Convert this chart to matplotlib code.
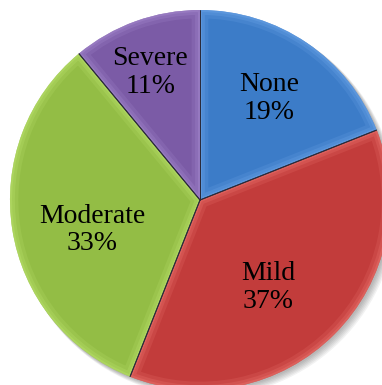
import matplotlib
matplotlib.use("Agg")
import matplotlib.pyplot as plt
import numpy as np
from matplotlib.patches import Wedge

# severity shares (percent)
categories = ["None", "Mild", "Moderate", "Severe"]
shares = [19, 37, 33, 11]

face_colors = ["#3c7cc8", "#c23c3b", "#93bd45", "#7b5ba6"]
rim_colors = ["#6aa2e6", "#e8706a", "#b8df6a", "#a487cc"]
# label placement: fraction of radius and angle nudge from slice middle
label_dist = [0.645, 0.585, 0.59, 0.72]
label_nudge = [0, -7, 6.5, 1.5]

R_PX = 190.0
fig = plt.figure(figsize=(3.82, 3.85), dpi=100)
ax = fig.add_axes([0, 0, 1, 1])

# soft drop shadow under the pie
for k in range(6):
    off = (1.5 + k * 0.8) / R_PX
    ax.add_patch(plt.Circle((off, -off), 1.0 + k * 0.3 / R_PX,
                            color="black", alpha=0.05, lw=0, zorder=0))

wedges, _ = ax.pie(shares, colors=face_colors, startangle=90,
                   counterclock=False, radius=1.0,
                   wedgeprops=dict(linewidth=0, zorder=2))

# lighter bevel fading in from the slice borders
for w, rim in zip(wedges, rim_colors):
    for lw, a in [(12, 0.22), (7, 0.3), (3, 0.45)]:
        band = Wedge(w.center, w.r, w.theta1, w.theta2, facecolor="none",
                     edgecolor=rim, linewidth=lw, alpha=a, zorder=3)
        ax.add_patch(band)
        band.set_clip_path(w)

# dark radial separators
for w in wedges:
    for th in (w.theta1, w.theta2):
        t = np.deg2rad(th)
        ax.plot([0, np.cos(t)], [0, np.sin(t)], color="#2b2b3a", lw=0.7,
                zorder=4, solid_capstyle="butt")

for w, name, val, d, nd in zip(wedges, categories, shares, label_dist, label_nudge):
    mid = np.deg2rad((w.theta1 + w.theta2) / 2 + nd)
    ax.text(d * np.cos(mid), d * np.sin(mid), f"{name}\n{val}%",
            ha="center", va="center", fontsize=20, family="Liberation Serif",
            linespacing=1.15, color="black", zorder=5)

ax.set_xlim(-200 / R_PX, 182 / R_PX)
ax.set_ylim(-185 / R_PX, 200 / R_PX)
ax.set_aspect("auto")
ax.axis("off")

fig.savefig("out.png", dpi=100)
